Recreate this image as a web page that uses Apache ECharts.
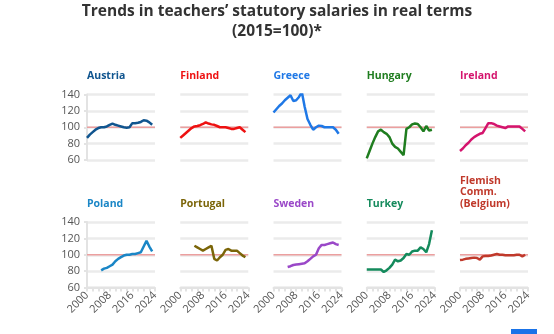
<!DOCTYPE html>
<html>
<head>
<meta charset="utf-8">
<script src="https://cdn.jsdelivr.net/npm/echarts@6/dist/echarts.min.js"></script>
<style>
html,body{margin:0;padding:0;background:#fff;}
#chart{width:554px;height:334px;}
</style>
</head>
<body>
<div id="chart"></div>
<script>
// ---------- DATA ----------
const YEARS_ALL = [2000,2001,2002,2003,2004,2005,2006,2007,2008,2009,2010,2011,2012,2013,2014,2015,2016,2017,2018,2019,2020,2021,2022,2023];
const YEARS_2005 = [2005,2006,2007,2008,2009,2010,2011,2012,2013,2014,2015,2016,2017,2018,2019,2020,2021,2022,2023];

const austria  = [87,91,94,97,99,100,100,101,103,104.5,103,102,101,100,99.5,100,105,105,105.5,106.5,108.5,108,106,103];
const finland  = [87,90,93,96,99,101,101.5,102.5,104,106,104.5,103.5,103,101.5,100,100,100,99,98,98,99,100,97,94];
const greece   = [118,122,126,129,133,136,139,132,133,137,143,125,110,103,97,100,102,101.5,100,100,100,100,97,92];
const hungary  = [62,71,80,88,95,97,94,92,88,80,76,74,70,66,98,100,103.5,104.5,104,100,95,101.5,96,97];
const ireland  = [71,74,78,81,85,88,90,92,93,99,105,105,104,102,101,100,99,101,101,101,101,101,98,95];
const poland   = [81,83,84,86,88,92,95,97,99,100,100,101,101,102,103,110,117,110,104];
const portugal = [111,109,107,105,107,109,111,95,93,97,100,106,107,105,105,105,102,99,97];
const sweden   = [85,86,87.5,88,88.5,89,89.5,92,95,98,100,108,112,112,113,114,115,113,112];
const turkey   = [82,82,82,82,82,82,79,81,84,88,94,92,93,96,101,100,104,105,105,109,107,103,113,130];
const flemish  = [93.5,94,95,95.5,96,96.5,96,94,98,98.5,98.5,99,100,101,100,100,99.5,99.5,99.5,99.5,100,100,98,100];

const COUNTRY_NAMES = ['Austria','Finland','Greece','Hungary','Ireland','Poland','Portugal','Sweden','Turkey','Flemish\nComm.\n(Belgium)'];
const COUNTRY_VALUES = [austria,finland,greece,hungary,ireland,poland,portugal,sweden,turkey,flemish];
const COUNTRY_YEARS = [YEARS_ALL,YEARS_ALL,YEARS_ALL,YEARS_ALL,YEARS_ALL,YEARS_2005,YEARS_2005,YEARS_2005,YEARS_ALL,YEARS_ALL];
const COUNTRY_COLORS = ['#10558f','#ee1111','#1f78e6','#1f7d1f','#d4146d','#1a86c6','#7b6508','#9a48c8','#148a5c','#c0392b'];

const REF_YEARS = [2000, 2024];
const REF_VALUE = 100;
const Y_TICKS = [60, 80, 100, 120, 140];
const X_LABELS = [2000, 2008, 2016, 2024];

const TITLE = 'Trends in teachers’ statutory salaries in real terms\n(2015=100)*';

// ---------- CHART ----------
const chart = echarts.init(document.getElementById('chart'), null, {renderer:'canvas'});

const FONT = '"Open Sans", "Noto Sans", sans-serif';
const colLeft = c => 87 + c * 93.25;
const rowTop = [94.5, 222];
const plotW = 68, plotH = 65.5;

const grids = [], xAxes = [], yAxes = [], series = [];
const titles = [{
  text: TITLE, left: 277, top: 2, padding: 0,
  textAlign: 'center',
  textStyle: {fontFamily: FONT, fontSize: 15.5, fontWeight: 'bold', color: '#333', lineHeight: 20}
}];

COUNTRY_NAMES.forEach((name, i) => {
  const col = i % 5, row = Math.floor(i / 5);
  const left = colLeft(col), top = rowTop[row];
  grids.push({left: left, top: top, width: plotW, height: plotH});
  const lines = name.split('\n').length;
  titles.push({
    text: name, left: left, top: (row === 0 ? 70 : 198) - (lines - 1) * 11.5, padding: 0,
    textStyle: {fontFamily: FONT, fontSize: 10.5, fontWeight: 'bold', color: COUNTRY_COLORS[i], lineHeight: 11.5}
  });
  const bottomRow = row === 1;
  xAxes.push({
    type: 'value', gridIndex: i, min: X_LABELS[0], max: X_LABELS[X_LABELS.length - 1], interval: 2,
    axisLine: {show: bottomRow, lineStyle: {color: '#e3e3e3', width: 2}},
    axisTick: {show: bottomRow, length: 4, lineStyle: {color: '#e3e3e3', width: 2}},
    axisLabel: {
      show: bottomRow, rotate: 45, fontFamily: FONT, fontSize: 11, color: '#555', margin: 6,
      formatter: v => X_LABELS.indexOf(v) >= 0 ? String(v) : ''
    },
    splitLine: {show: false}
  });
  const firstCol = col === 0;
  yAxes.push({
    type: 'value', gridIndex: i, min: Y_TICKS[0], max: Y_TICKS[Y_TICKS.length - 1], interval: 20,
    axisLine: {show: firstCol, lineStyle: {color: '#e3e3e3', width: 2}},
    axisTick: {show: firstCol, length: 3, lineStyle: {color: '#e3e3e3', width: 2}},
    axisLabel: {show: firstCol, fontFamily: FONT, fontSize: 11, color: '#555', margin: 7},
    splitLine: {show: true, lineStyle: {color: '#ebebeb', width: 2.5}}
  });
  series.push({
    type: 'line', xAxisIndex: i, yAxisIndex: i, silent: true, symbol: 'none', z: 1,
    data: REF_YEARS.map(y => [y, REF_VALUE]),
    lineStyle: {color: '#ec9f9f', width: 1.5}
  });
  series.push({
    type: 'line', xAxisIndex: i, yAxisIndex: i, symbol: 'none', z: 3,
    data: COUNTRY_YEARS[i].map((y, k) => [y, COUNTRY_VALUES[i][k]]),
    lineStyle: {color: COUNTRY_COLORS[i], width: 2.5},
    itemStyle: {color: COUNTRY_COLORS[i]}
  });
});

chart.setOption({
  animation: false,
  backgroundColor: '#fff',
  title: titles,
  grid: grids,
  xAxis: xAxes,
  yAxis: yAxes,
  series: series,
  graphic: [{type: 'rect', shape: {x: 511, y: 329, width: 26, height: 5}, style: {fill: '#1a73e8'}}]
});
</script>
</body>
</html>
